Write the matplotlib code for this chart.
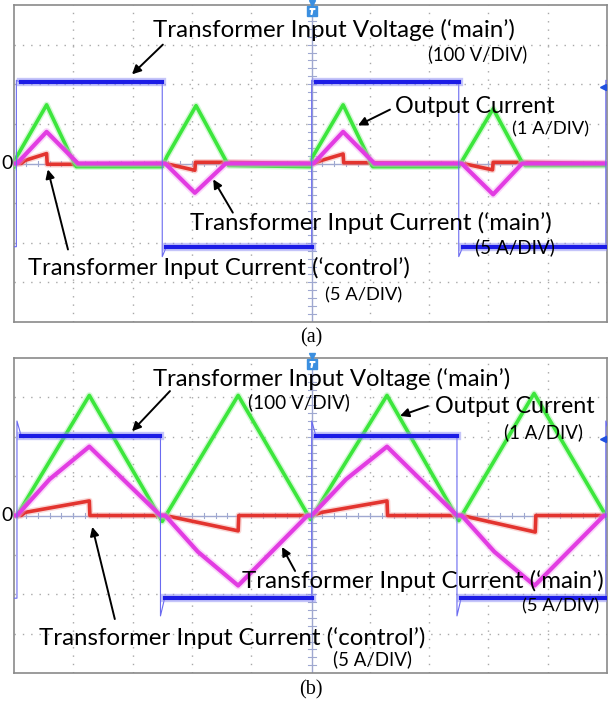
import matplotlib.pyplot as plt

plt.rcParams["font.family"] = ["Lato", "DejaVu Sans"]

W, H = 609, 709

# ---- scope traces, in divisions (x: 0..10 div, y: -4..4 div)
# (a)
volt_a_edges = [0.04, 2.50, 5.02, 7.50, 9.98]
volt_a_levels = [2.05, -2.10]
volt_a_spikes = [2.10, -2.35]

out_a_t = [0.00, 0.05, 0.55, 0.97, 1.05, 2.50, 2.58, 3.07, 3.57, 3.62, 5.00, 5.04, 5.55, 5.98, 6.05, 7.50, 7.57, 8.08, 8.55, 8.62, 10.0]
out_a_v = [-0.08, 0.18, 1.48, 0.15, -0.08, -0.08, 0.18, 1.46, 0.08, -0.05, -0.08, 0.18, 1.48, 0.15, -0.08, -0.08, 0.10, 1.38, 0.08, -0.05, -0.05]

main_a_t = [0.00, 0.05, 0.55, 1.08, 2.50, 2.55, 3.05, 3.57, 5.00, 5.05, 5.55, 6.08, 7.50, 7.55, 8.08, 8.57, 10.0]
main_a_v = [0.0, 0.0, 0.80, 0.0, 0.0, 0.0, -0.74, 0.0, 0.0, 0.0, 0.80, 0.0, 0.0, 0.0, -0.78, 0.0, 0.0]

ctrl_a_t = [0.00, 0.12, 0.19, 0.55, 0.56, 0.97, 2.55, 3.05, 3.06, 3.57, 5.05, 5.19, 5.55, 5.56, 5.98, 7.57, 8.07, 8.08, 8.57, 10.0]
ctrl_a_v = [0.0, 0.0, 0.08, 0.25, -0.02, -0.02, 0.0, -0.17, 0.03, 0.03, 0.0, 0.08, 0.24, 0.02, 0.02, 0.0, -0.16, 0.03, 0.03, 0.0]

# (b)
volt_b_edges = [0.05, 2.47, 5.02, 7.47, 9.98]
volt_b_levels = [2.03, -2.10]
volt_b_spikes = [2.40, -2.55]

out_b_t = [0.05, 1.27, 2.50, 3.78, 5.00, 6.29, 7.50, 8.77, 10.0]
out_b_v = [0.00, 3.05, -0.15, 3.05, -0.10, 3.05, -0.13, 3.10, -0.05]

main_b_t = [0.00, 0.05, 0.60, 1.27, 2.47, 2.55, 3.10, 3.78, 4.95, 5.02, 5.60, 6.29, 7.47, 7.55, 8.10, 8.78, 9.95, 10.0]
main_b_v = [0.0, 0.0, 0.92, 1.75, 0.0, 0.0, -0.92, -1.78, 0.0, 0.0, 0.92, 1.75, 0.0, 0.0, -0.92, -1.78, 0.0, 0.0]

ctrl_b_t = [0.00, 0.12, 0.19, 1.27, 1.28, 2.55, 3.78, 3.79, 5.02, 5.19, 6.29, 6.30, 7.55, 8.79, 8.80, 10.0]
ctrl_b_v = [0.0, 0.0, 0.08, 0.37, 0.0, 0.0, -0.39, 0.0, 0.0, 0.08, 0.37, 0.0, 0.0, -0.42, 0.0, 0.0]

BLUE, BLUE_H = "#1c1ce6", "#8c8cf5"
GREEN, GREEN_H = "#3ce63c", "#93f093"
MAGENTA, MAGENTA_H = "#e23ce2", "#f39cf3"
RED, RED_H = "#e3342f", "#f29a98"


def square_wave(edges, levels, spikes, settle=0.07):
    hi, lo = levels
    t, v, plateaus = [0.0], [lo], []
    start, level = 0.0, lo
    for i, te in enumerate(edges):
        new, spk = (hi, spikes[0]) if i % 2 == 0 else (lo, spikes[1])
        plateaus.append((start, te, level))
        t += [te, te, te + settle]
        v += [level, spk, new]
        start, level = te + settle, new
    plateaus.append((start, 10.0, level))
    t.append(10.0)
    v.append(level)
    return t, v, [p for p in plateaus if p[1] - p[0] > 0.2]


def trace(ax, t, v, core, halo, lw, z):
    ax.plot(t, v, color=halo, lw=lw * 1.8, alpha=0.4, zorder=z)
    ax.plot(t, v, color=core, lw=lw, zorder=z + 0.1)


def scope(ax, volt, out, main, ctrl):
    ax.set_xlim(0, 10)
    ax.set_ylim(-4, 4)
    ax.set_xticks([])
    ax.set_yticks([])
    for s in ax.spines.values():
        s.set_color("#8a8a8a")
        s.set_linewidth(1.2)
    for x in range(1, 10):
        if x != 5:
            ax.axvline(x, color="#a8a8a8", lw=1.0, ls=(0, (1, 5)), zorder=1)
    for y in range(-3, 4):
        if y != 0:
            ax.axhline(y, color="#a8a8a8", lw=1.0, ls=(0, (1, 5)), zorder=1)
    ax.axvline(5.03, color="#9fa8d0", lw=1.0, zorder=1.5)
    ax.axhline(0, color="#9fa8d0", lw=1.0, zorder=1.5)
    for i in range(1, 50):
        ax.plot([i * 0.2, i * 0.2], [-0.06, 0.06], color="#9fa8d0", lw=0.8, zorder=1.5)
    for i in range(-19, 20):
        ax.plot([4.96, 5.10], [i * 0.2, i * 0.2], color="#9fa8d0", lw=0.8, zorder=1.5)

    trace(ax, ctrl[0], ctrl[1], RED, RED_H, 2.6, 3)
    trace(ax, out[0], out[1], GREEN, GREEN_H, 2.6, 4)
    trace(ax, main[0], main[1], MAGENTA, MAGENTA_H, 3.0, 5)

    t, v, plateaus = square_wave(*volt)
    ax.plot(t, v, color="#6a6af0", lw=0.8, zorder=6)
    for s, e, lvl in plateaus:
        ax.plot([s, e], [lvl, lvl], color=BLUE_H, lw=6.0, alpha=0.5, zorder=6)
        ax.plot([s, e], [lvl, lvl], color=BLUE, lw=3.0, zorder=6.1)

    # trigger marker and channel offset marker
    ax.plot([5.03], [4.06], marker="v", ms=5, color="#3b8fe0", clip_on=False, zorder=8)
    ax.plot([5.03], [3.86], marker="s", ms=6.5, color="#3b8fe0", zorder=8)
    ax.plot([5.03], [3.86], marker="$T$", ms=4, color="white", zorder=9)
    ax.plot([9.93], [1.94], marker="<", ms=5, color="#2050e0", zorder=8)
    ax.text(-0.02, 0, "0", ha="right", va="center", fontsize=14, clip_on=False)


ARROW = dict(arrowstyle="-|>", color="black", lw=1.4, mutation_scale=13, shrinkA=0, shrinkB=0)
fig = plt.figure(figsize=(W / 100, H / 100), dpi=100)
renderer = fig.canvas.get_renderer()


def label(ax, x, y, s, width_px):
    # size each label so that it spans the same width as in the reference
    t = ax.text(x, y, s, ha="left", va="center", fontsize=16, zorder=10)
    w = t.get_window_extent(renderer).width
    t.set_fontsize(16 * width_px / w)


def arrow(ax, x0, y0, x1, y1):
    ax.annotate("", xy=(x1, y1), xytext=(x0, y0), arrowprops=ARROW, zorder=10)


ax_a = fig.add_axes([14 / W, 1 - 322 / H, 593 / W, 317 / H])
ax_b = fig.add_axes([14 / W, 1 - 673 / H, 593 / W, 315 / H])

scope(ax_a, (volt_a_edges, volt_a_levels, volt_a_spikes),
      (out_a_t, out_a_v), (main_a_t, main_a_v), (ctrl_a_t, ctrl_a_v))
scope(ax_b, (volt_b_edges, volt_b_levels, volt_b_spikes),
      (out_b_t, out_b_v), (main_b_t, main_b_v), (ctrl_b_t, ctrl_b_v))

# annotations (a)
label(ax_a, 2.34, 3.38, "Transformer Input Voltage (\u2018main\u2019)", 364)
label(ax_a, 6.98, 2.75, "(100 V/DIV)", 100)
arrow(ax_a, 2.51, 3.00, 1.99, 2.25)
label(ax_a, 6.42, 1.44, "Output Current", 160)
label(ax_a, 8.40, 0.86, "(1 A/DIV)", 78)
arrow(ax_a, 6.34, 1.36, 5.80, 0.96)
label(ax_a, 2.97, -1.49, "Transformer Input Current (\u2018main\u2019)", 362)
label(ax_a, 7.77, -2.12, "(5 A/DIV)", 80)
arrow(ax_a, 3.69, -1.24, 3.36, -0.40)
label(ax_a, 0.24, -2.63, "Transformer Input Current (\u2018control\u2019)", 385)
label(ax_a, 5.24, -3.33, "(5 A/DIV)", 78)
arrow(ax_a, 0.91, -2.17, 0.57, -0.15)

# annotations (b)
label(ax_b, 2.34, 3.48, "Transformer Input Voltage (\u2018main\u2019)", 360)
label(ax_b, 3.95, 2.88, "(100 V/DIV)", 102)
arrow(ax_b, 2.63, 3.16, 1.99, 2.14)
label(ax_b, 7.10, 2.78, "Output Current", 160)
label(ax_b, 8.26, 2.12, "(1 A/DIV)", 79)
arrow(ax_b, 6.98, 2.78, 6.51, 2.53)
label(ax_b, 3.84, -1.66, "Transformer Input Current (\u2018main\u2019)", 363)
label(ax_b, 8.57, -2.32, "(5 A/DIV)", 78)
arrow(ax_b, 4.74, -1.41, 4.52, -0.80)
label(ax_b, 0.42, -3.10, "Transformer Input Current (\u2018control\u2019)", 386)
label(ax_b, 5.38, -3.64, "(5 A/DIV)", 79)
arrow(ax_b, 1.70, -2.63, 1.32, -0.29)

fig.text(311 / W, 1 - 338 / H, "(a)", ha="center", va="center",
         fontsize=14.5, family="Liberation Serif")
fig.text(311 / W, 1 - 690 / H, "(b)", ha="center", va="center",
         fontsize=14.5, family="Liberation Serif")

fig.savefig("out.png", dpi=100)
